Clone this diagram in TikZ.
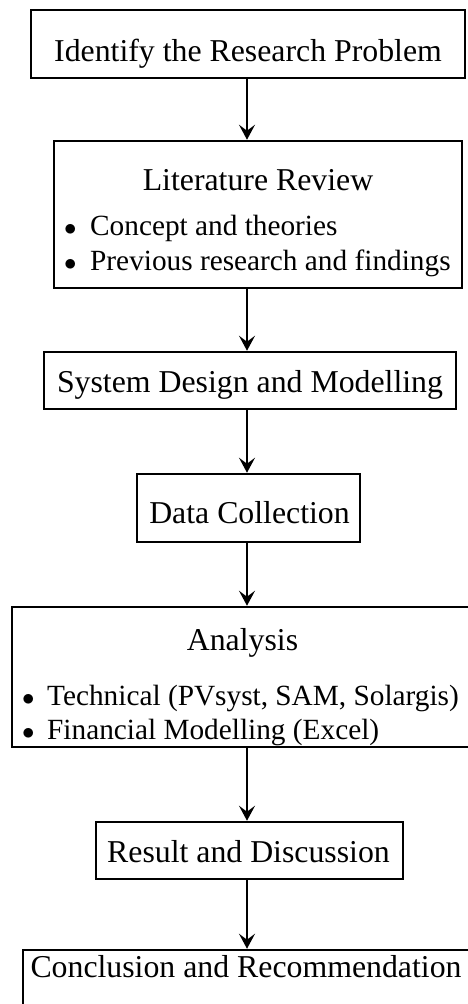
\documentclass[tikz,border=0pt]{standalone}
\usepackage{fontspec}
\setmainfont{Liberation Serif}
\usetikzlibrary{arrows.meta}
\begin{document}
\begin{tikzpicture}[x=1pt,y=-1pt,
  box/.style={draw=black, line width=2.5pt, rectangle, inner sep=0pt},
  txt/.style={font=\fontsize{31.8}{36}\selectfont, inner sep=0pt, anchor=base},
  item/.style={font=\fontsize{29.3}{34}\selectfont, inner sep=0pt, anchor=base west},
  arr/.style={line width=2.2pt, -{Stealth[length=15pt,width=16pt,inset=6pt]}}]
\useasboundingbox (0,0) rectangle (468,1004);
\clip (0,0) rectangle (468,1004);

% process boxes
\node[box, minimum width=434pt, minimum height=68pt]  (b1) at (248,44) {};
\node[box, minimum width=408pt, minimum height=147pt] (b2) at (258,214.5) {};
\node[box, minimum width=412pt, minimum height=57pt]  (b3) at (250,380.5) {};
\node[box, minimum width=223pt, minimum height=68pt]  (b4) at (248.5,508) {};
\node[box, minimum width=461pt, minimum height=140pt] (b5) at (242.5,677) {};
\node[box, minimum width=307pt, minimum height=57pt]  (b6) at (249.5,850.5) {};
\node[box, minimum width=446pt, minimum height=62pt]  (b7) at (246,981) {};

% texts
\node[txt] (t1) at (248,61) {Identify the Research Problem};
\node[txt] (t2) at (258,190) {Literature Review};
\node[item] (t2a) at (64,235) {\makebox[26pt][l]{$\bullet$}Concept and theories};
\node[item] (t2b) at (64,270) {\makebox[26pt][l]{$\bullet$}Previous research and findings};
\node[txt] (t3) at (250,392) {System Design and Modelling};
\node[txt] (t4) at (249.5,523) {Data Collection};
\node[txt] (t5) at (242.5,650) {Analysis};
\node[item] (t5a) at (22,705) {\makebox[25pt][l]{$\bullet$}Technical (PVsyst, SAM, Solargis)};
\node[item] (t5b) at (22,739) {\makebox[25pt][l]{$\bullet$}Financial Modelling (Excel)};
\node[txt] (t6) at (248.5,862) {Result and Discussion};
\node[txt] (t7) at (246,977) {Conclusion and Recommendation};

% vertical flow line
\coordinate (spine) at (247,0);
\draw[arr] (b1.south -| spine) -- (b2.north -| spine);
\draw[arr] (b2.south -| spine) -- (b3.north -| spine);
\draw[arr] (b3.south -| spine) -- (b4.north -| spine);
\draw[arr] (b4.south -| spine) -- (b5.north -| spine);
\draw[arr] (b5.south -| spine) -- (b6.north -| spine);
\draw[arr] (b6.south -| spine) -- (b7.north -| spine);
\end{tikzpicture}
\end{document}
